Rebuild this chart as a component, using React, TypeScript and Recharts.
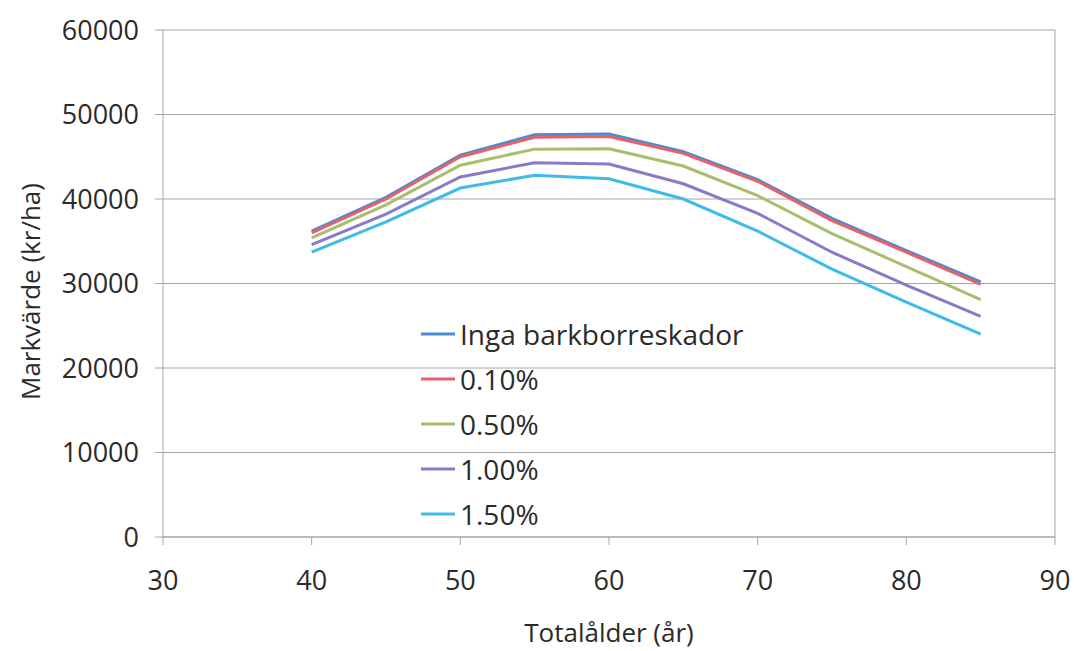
import React from 'react';
import { LineChart, Line, XAxis, YAxis, CartesianGrid, Legend, ReferenceLine } from 'recharts';

const ages = [40, 45, 50, 55, 60, 65, 70, 75, 80, 85];
const ingaSkador = [36200, 40200, 45200, 47600, 47700, 45600, 42300, 37700, 33900, 30200];
const pct010 = [36000, 40000, 45000, 47300, 47400, 45400, 42100, 37450, 33700, 29900];
const pct050 = [35400, 39300, 44000, 45900, 45950, 43900, 40400, 35900, 32000, 28100];
const pct100 = [34600, 38200, 42600, 44300, 44150, 41800, 38300, 33700, 29800, 26100];
const pct150 = [33700, 37300, 41300, 42800, 42400, 40000, 36200, 31700, 27800, 24000];

const seriesNames = ['Inga barkborreskador', '0.10%', '0.50%', '1.00%', '1.50%'];
const seriesColors = ['#4A8BD2', '#EA6068', '#A6BF6C', '#8B7BC6', '#3FBBEA'];
const seriesValues = [ingaSkador, pct010, pct050, pct100, pct150];

const xTicks = [30, 40, 50, 60, 70, 80, 90];
const yTicks = [0, 10000, 20000, 30000, 40000, 50000, 60000];

const xTitle = 'Totalålder (år)';
const yTitle = 'Markvärde (kr/ha)';

const data = ages.map((age, i) => {
  const row: Record<string, number> = { age };
  seriesValues.forEach((vals, s) => {
    row['s' + s] = vals[i];
  });
  return row;
});

const FONT = '"Open Sans", sans-serif';
const TEXT = '#2a2a2a';
const GRID = '#a4a4ae';

const LegendContent = () => (
  <div style={{ fontFamily: FONT }}>
    {seriesNames.map((name, i) => (
      <div key={name} style={{ display: 'flex', alignItems: 'center', height: 45 }}>
        <svg width={36} height={10} style={{ marginRight: 4 }}>
          <line x1={1} y1={5} x2={35} y2={5} stroke={seriesColors[i]} strokeWidth={3} />
        </svg>
        <span style={{ fontSize: 28, color: TEXT, lineHeight: '28px', whiteSpace: 'nowrap' }}>{name}</span>
      </div>
    ))}
  </div>
);

export default function App() {
  return (
    <div style={{ position: 'absolute', left: 0, top: 0, background: '#fff' }}>
      <LineChart
        width={1074}
        height={651}
        data={data}
        margin={{ top: 30, right: 19, bottom: 0, left: 0 }}
        style={{ fontFamily: FONT }}
      >
        <CartesianGrid vertical={false} stroke={GRID} strokeWidth={1} />
        <XAxis
          dataKey="age"
          type="number"
          domain={[30, 90]}
          ticks={xTicks}
          height={114}
          tickSize={8}
          tickMargin={26}
          stroke={GRID}
          tick={{ fill: TEXT, fontSize: 27, fontFamily: FONT }}
          label={{
            content: (p: any) => {
              const vb = p.viewBox;
              return (
                <text
                  x={vb.x + vb.width / 2}
                  y={vb.y + vb.height - 9}
                  textAnchor="middle"
                  fill={TEXT}
                  fontSize={26}
                  fontFamily={FONT}
                >
                  {xTitle}
                </text>
              );
            },
          }}
        />
        <YAxis
          type="number"
          domain={[0, 60000]}
          ticks={yTicks}
          width={163}
          tickSize={8}
          tickMargin={16}
          stroke={GRID}
          tick={{ fill: TEXT, fontSize: 27, fontFamily: FONT }}
          label={{
            content: (p: any) => {
              const vb = p.viewBox;
              const cx = 40;
              const cy = vb.y + vb.height / 2 + 8;
              return (
                <text
                  x={cx}
                  y={cy}
                  transform={`rotate(-90 ${cx} ${cy})`}
                  textAnchor="middle"
                  fill={TEXT}
                  fontSize={26}
                  fontFamily={FONT}
                >
                  {yTitle}
                </text>
              );
            },
          }}
        />
        <ReferenceLine x={90} stroke={GRID} strokeWidth={1} />
        {seriesNames.map((name, s) => (
          <Line
            key={name}
            type="linear"
            dataKey={'s' + s}
            name={name}
            stroke={seriesColors[s]}
            strokeWidth={3}
            dot={false}
            activeDot={false}
            isAnimationActive={false}
          />
        ))}
        <Legend
          layout="vertical"
          verticalAlign="middle"
          align="center"
          content={LegendContent}
          wrapperStyle={{ left: 420, top: 311, width: 360, right: 'auto', bottom: 'auto' }}
        />
      </LineChart>
    </div>
  );
}
